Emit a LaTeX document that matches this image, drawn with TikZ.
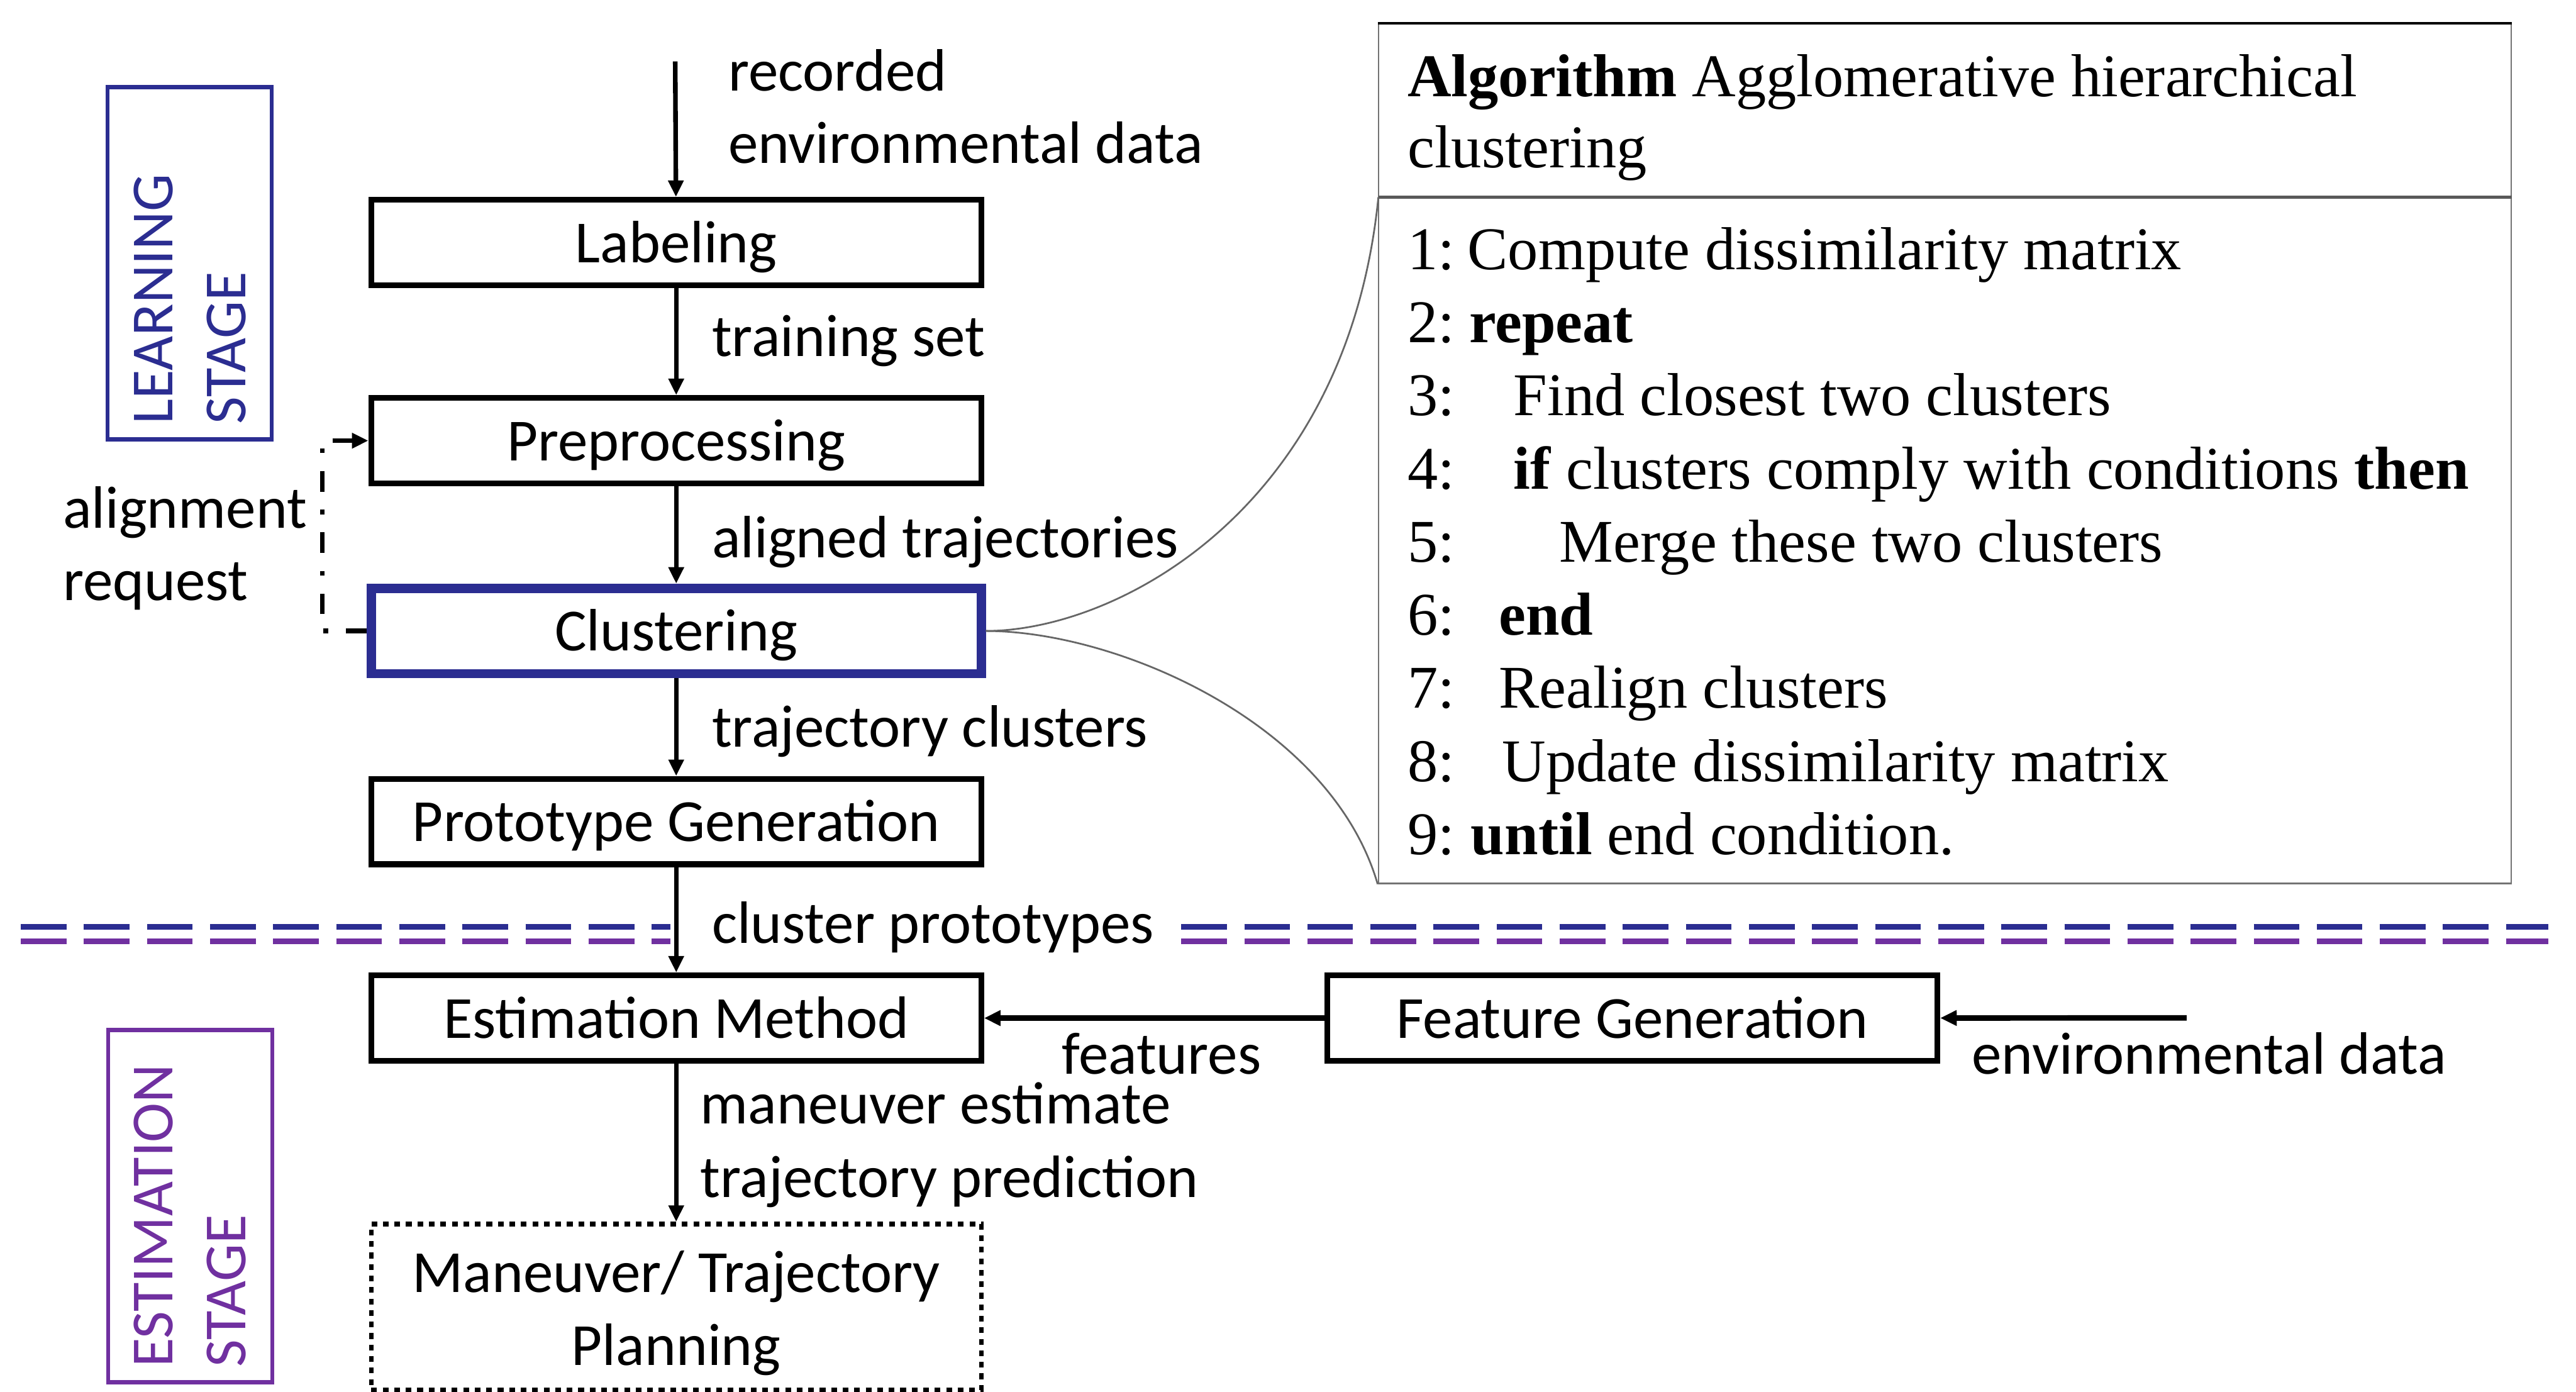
\documentclass[tikz,border=0pt]{standalone}
\usepackage{fontspec}
\setmainfont{Carlito}
\newfontfamily\algfont{Liberation Serif}
\usetikzlibrary{arrows.meta}

\definecolor{stageblue}{RGB}{43,45,145}
\definecolor{stagepurple}{RGB}{112,48,160}

\tikzset{
	every node/.style={font=\fontsize{20.7pt}{25.3pt}\selectfont},
	block/.style={draw, line width=2pt, minimum width=74.26mm, minimum height=10.4mm,
		inner sep=0pt, text height=17pt, text depth=3.3pt},
	stagebox/.style={draw, line width=1.4pt, rotate=90, minimum width=42.86mm,
		minimum height=19.98mm, inner xsep=1.8mm, inner ysep=0pt, text width=39.26mm, align=left},
	lbl/.style={anchor=base west, inner sep=0pt},
	algtext/.style={anchor=base west, inner sep=0pt, font=\algfont\fontsize{21pt}{25.3pt}\selectfont},
	flow/.style={line width=1.6pt, -{Triangle[length=2mm, width=1.8mm]}},
	sep/.style={line width=2pt, dash pattern=on 5.56mm off 2.12mm}
}

\begin{document}
\begin{tikzpicture}[x=0.2mm, y=-0.2mm]
		\useasboundingbox (0, 0) rectangle (1568, 847);

		% stage labels
		\node[stagebox, stageblue] (learning) at (115.5, 160.2) {LEARNING\\STAGE};
		\node[stagebox, stagepurple] (estimation) at (115.7, 734) {ESTIMATION\\STAGE};

		% main chain
		\node[block] (label) at (411.6, 147.6) {Labeling};
		\node[block] (prep) at (411.6, 268.2) {Preprocessing};
		\node[block, draw=stageblue, line width=3.2pt] (clust) at (411.6, 384) {Clustering};
		\node[block] (proto) at (411.6, 500) {Prototype Generation};
		\node[block] (estim) at (411.6, 619.6) {Estimation Method};
		\node[block, line width=1.6pt, dash pattern=on 0.7mm off 0.7mm,
			align=center, text height=48.85pt, text depth=8.65pt] (plan) at (411.6, 795.5)
			{Maneuver/ Trajectory\\Planning};
		\node[block] (featgen) at (993.6, 619.6) {Feature Generation};

		\coordinate (rawin) at (411, 37.4);
		\coordinate (envin) at (1331, 619.5);

		\draw[flow] (rawin) -- (label);
		\draw[flow] (label) -- (prep);
		\draw[flow] (prep) -- (clust);
		\draw[flow] (clust) -- (proto);
		\draw[flow] (proto) -- (estim);
		\draw[flow] (estim) -- (plan);
		\draw[flow, line width=1.9pt] (envin) -- (featgen);
		\draw[flow, line width=1.9pt] (featgen) -- (estim);
		\draw[flow, dash pattern=on 2.5mm off 2.2mm on 0.55mm off 2.2mm]
			(clust.west) -- ++(-27, 0) |- (prep.west);

		% edge labels
		\node[lbl] (rec1) at (443, 55.2) {recorded};
		\node[lbl] (rec2) at (443, 99.5) {environmental data};
		\node[lbl] (trainset) at (433, 216.8) {training set};
		\node[lbl] (aligned) at (433, 339.2) {aligned trajectories};
		\node[lbl] (trajclust) at (433, 454.5) {trajectory clusters};
		\node[lbl] (protos) at (433, 574) {cluster prototypes};
		\node[lbl] (manest) at (426, 684) {maneuver estimate};
		\node[lbl] (trajpred) at (426, 728.6) {trajectory prediction};
		\node[lbl] (features) at (646, 653.8) {features};
		\node[lbl] (envdata) at (1200, 653.5) {environmental data};
		\node[lbl] (alreq1) at (38, 321.4) {alignment};
		\node[lbl] (alreq2) at (38, 365.4) {request};

		% stage separator
		\draw[sep, stageblue] (12.7, 564) -- (408, 564);
		\draw[sep, stagepurple] (12.7, 573) -- (408, 573);
		\draw[sep, stageblue] (719, 564) -- (1551, 564);
		\draw[sep, stagepurple] (719, 573) -- (1551, 573);

		% algorithm box
		\node[draw=black!55, line width=0.5pt, minimum width=137.9mm, minimum height=104.6mm,
			inner sep=0pt] (alg) at (1183.75, 276.1) {};
		\draw[line width=0.9pt] (alg.north west) -- (alg.north east);
		\coordinate (algsep) at (839, 120);
		\draw[black!65, line width=0.9pt] (algsep) -- (algsep -| alg.east);
		\node[algtext] (alghead1) at (856.5, 58.7) {\textbf{Algorithm} Agglomerative hierarchical};
		\node[algtext] (alghead2) at (856.5, 102) {clustering};
		\foreach \n/\ind/\txt in {1/893/Compute dissimilarity matrix, 2/894/\textbf{repeat},
			3/921/Find closest two clusters, 4/921/\textbf{if} clusters comply with conditions \textbf{then},
			5/949/Merge these two clusters, 6/912/\textbf{end}, 7/912/Realign clusters,
			8/914/Update dissimilarity matrix, 9/895/\textbf{until} end condition.}{
			\node[algtext] (algnum\n) at (856.5, 119.5 + 44.5*\n) {\n:};
			\node[algtext] (algline\n) at (\ind, 119.5 + 44.5*\n) {\txt};
		}

		% zoom lines
		\draw[black!60, line width=0.6pt] (clust.east) .. controls (680, 384) and (820, 310) .. (algsep);
		\draw[black!60, line width=0.6pt] (clust.east) .. controls (680, 384) and (810, 440) .. (alg.south west);
	\end{tikzpicture}
\end{document}
